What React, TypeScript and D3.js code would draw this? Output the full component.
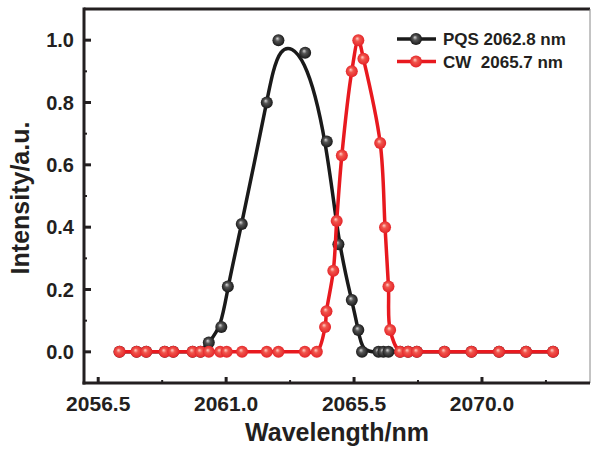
import React, { useEffect, useRef } from 'react';
import * as d3 from 'd3';

// PQS spectrum (black)
const pqsWave = [2057.25, 2057.85, 2058.19, 2058.84, 2059.14, 2059.82, 2060.10, 2060.39, 2060.83, 2061.06, 2061.55, 2062.43, 2062.84, 2063.78, 2064.54, 2064.95, 2065.42, 2065.65, 2065.78, 2066.36, 2066.53, 2066.71, 2067.12, 2067.40, 2067.71, 2068.68, 2069.63, 2070.60, 2071.55, 2072.50];
const pqsVal = [0, 0, 0, 0, 0, 0, 0, 0.03, 0.08, 0.21, 0.41, 0.80, 1.0, 0.96, 0.675, 0.345, 0.166, 0.07, 0, 0, 0, 0, 0, 0, 0, 0, 0, 0, 0, 0];

// CW spectrum (red)
const cwWave = [2057.25, 2057.85, 2058.19, 2058.84, 2059.14, 2059.82, 2060.10, 2060.39, 2060.79, 2061.02, 2061.56, 2062.43, 2062.84, 2063.77, 2064.19, 2064.48, 2064.53, 2064.77, 2064.89, 2065.07, 2065.42, 2065.65, 2065.83, 2066.42, 2066.59, 2066.71, 2066.77, 2067.12, 2067.40, 2067.71, 2068.68, 2069.63, 2070.60, 2071.55, 2072.50];
const cwVal = [0, 0, 0, 0, 0, 0, 0, 0, 0, 0, 0, 0, 0, 0, 0, 0.08, 0.13, 0.26, 0.42, 0.63, 0.90, 1.0, 0.94, 0.67, 0.40, 0.21, 0.07, 0, 0, 0, 0, 0, 0, 0, 0];

const xTicks = [2056.5, 2061.0, 2065.5, 2070.0];
const yTicks = [0, 0.2, 0.4, 0.6, 0.8, 1.0];
const legendLabels = ['PQS 2062.8 nm', 'CW\u00a0 2065.7 nm'];

const App = () => {
  const svgRef = useRef<SVGSVGElement>(null);

  useEffect(() => {
    const svg = d3.select(svgRef.current);
    svg.selectAll('*').remove();

    const left = 84, right = 590, top = 9, bottom = 383;
    const x = d3.scaleLinear().domain([2056.0, 2073.8]).range([left, right]);
    const y = d3.scaleLinear().domain([-0.1, 1.1]).range([bottom, top]);
    const font = 'Liberation Sans, Arial, sans-serif';
    const ink = '#231f20';

    const defs = svg.append('defs');
    const grad = (id, hi, mid, base) => {
      const g = defs.append('radialGradient').attr('id', id)
        .attr('cx', '50%').attr('cy', '50%').attr('r', '55%')
        .attr('fx', '40%').attr('fy', '35%');
      g.append('stop').attr('offset', '0%').attr('stop-color', hi);
      g.append('stop').attr('offset', '35%').attr('stop-color', mid);
      g.append('stop').attr('offset', '100%').attr('stop-color', base);
    };
    grad('gBlack', '#d8d8d8', '#555', '#111');
    grad('gRed', '#ffd0c8', '#f0554c', '#e31e24');

    // frame
    svg.append('line').attr('x1', left).attr('x2', right).attr('y1', top).attr('y2', top)
      .attr('stroke', ink).attr('stroke-width', 3);
    svg.append('line').attr('x1', right).attr('x2', right).attr('y1', top).attr('y2', bottom)
      .attr('stroke', '#888').attr('stroke-width', 1);

    // x ticks
    const xMinor = d3.range(2056.5 + 2.25, 2073.8, 4.5);
    xTicks.forEach(t => {
      svg.append('line').attr('x1', x(t)).attr('x2', x(t)).attr('y1', bottom).attr('y2', bottom - 6)
        .attr('stroke', ink).attr('stroke-width', 3);
      svg.append('text').attr('x', x(t)).attr('y', 411).attr('text-anchor', 'middle')
        .attr('font-family', font).attr('font-weight', 'bold').attr('font-size', 21).attr('fill', ink)
        .text(t.toFixed(1));
    });
    xMinor.forEach(t => {
      svg.append('line').attr('x1', x(t)).attr('x2', x(t)).attr('y1', bottom).attr('y2', bottom - 3)
        .attr('stroke', ink).attr('stroke-width', 2);
    });

    // y ticks
    yTicks.forEach(t => {
      svg.append('line').attr('x1', left).attr('x2', left + 7).attr('y1', y(t)).attr('y2', y(t))
        .attr('stroke', ink).attr('stroke-width', 3);
      svg.append('text').attr('x', 74).attr('y', y(t) + 7).attr('text-anchor', 'end')
        .attr('font-family', font).attr('font-weight', 'bold').attr('font-size', 20).attr('fill', ink)
        .text(t.toFixed(1));
    });
    d3.range(0.1, 1.1, 0.2).forEach(t => {
      svg.append('line').attr('x1', left).attr('x2', left + 3).attr('y1', y(t)).attr('y2', y(t))
        .attr('stroke', ink).attr('stroke-width', 2);
    });

    // axes lines
    svg.append('line').attr('x1', left).attr('x2', left).attr('y1', top - 1.5).attr('y2', bottom + 1.5)
      .attr('stroke', ink).attr('stroke-width', 3);
    svg.append('line').attr('x1', left - 1.5).attr('x2', right).attr('y1', bottom).attr('y2', bottom)
      .attr('stroke', ink).attr('stroke-width', 3);

    // axis titles
    svg.append('text').attr('x', 337).attr('y', 441).attr('text-anchor', 'middle')
      .attr('font-family', font).attr('font-weight', 'bold').attr('font-size', 25).attr('fill', ink)
      .text('Wavelength/nm');
    svg.append('text').attr('transform', 'translate(29,198) rotate(-90)').attr('text-anchor', 'middle')
      .attr('font-family', font).attr('font-weight', 'bold').attr('font-size', 25).attr('fill', ink)
      .text('Intensity/a.u.');

    const series = [
      { w: pqsWave, v: pqsVal, color: '#1a1a1a', fill: 'url(#gBlack)', curve: d3.curveBasis },
      { w: cwWave, v: cwVal, color: '#e8191f', fill: 'url(#gRed)', curve: d3.curveCatmullRom.alpha(0.5) },
    ];

    series.forEach(s => {
      const pts = s.w.map((w, i) => [w, s.v[i]] as [number, number]);
      const line = d3.line<[number, number]>().x(d => x(d[0])).y(d => y(d[1])).curve(s.curve);
      svg.append('path').attr('d', line(pts)).attr('fill', 'none')
        .attr('stroke', s.color).attr('stroke-width', 3.5).attr('stroke-linejoin', 'round');
      svg.append('g').selectAll('circle').data(pts).join('circle')
        .attr('cx', d => x(d[0])).attr('cy', d => y(d[1])).attr('r', 6)
        .attr('fill', s.fill);
    });

    // legend
    series.forEach((s, i) => {
      const ly = 39 + i * 22.5;
      svg.append('line').attr('x1', 397).attr('x2', 436).attr('y1', ly).attr('y2', ly)
        .attr('stroke', s.color).attr('stroke-width', 3.5);
      svg.append('circle').attr('cx', 416).attr('cy', ly).attr('r', 6).attr('fill', s.fill);
      svg.append('text').attr('x', 443).attr('y', ly + 6).attr('font-family', font)
        .attr('font-weight', 'bold').attr('font-size', 17).attr('fill', ink).text(legendLabels[i]);
    });
  }, []);

  return (
    <svg ref={svgRef} width={593} height={450}
      style={{ position: 'absolute', left: 0, top: 0, background: '#fff' }} />
  );
};

export default App;
